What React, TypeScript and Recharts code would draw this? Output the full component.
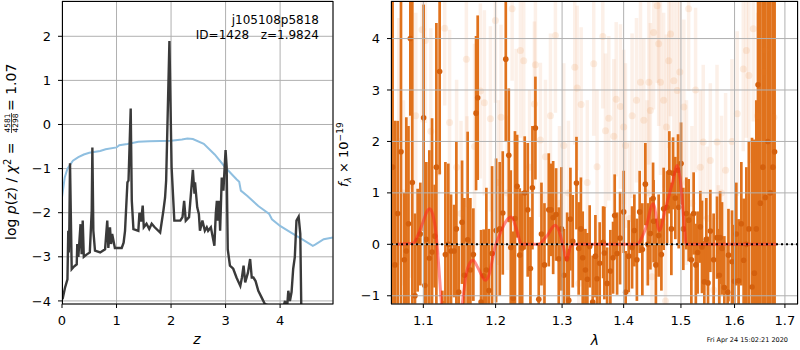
import React from 'react';
import {
  ComposedChart,
  Line,
  Scatter,
  ErrorBar,
  XAxis,
  YAxis,
  CartesianGrid,
} from 'recharts';

const FONT = '"DejaVu Sans", sans-serif';

// left panel: log p(z) (dark) and chi2 curve (blue)
const pzZ = [
  0.01, 0.055, 0.1, 0.115, 0.125, 0.135, 0.147, 0.16, 0.178, 0.22, 0.27, 0.28, 0.3, 0.34, 0.36, 0.38,
  0.4, 0.45, 0.51, 0.545, 0.557, 0.575, 0.605, 0.7, 0.79, 0.83, 0.85, 0.88, 0.9, 0.92, 0.97, 1.095,
  1.13, 1.156, 1.2, 1.22, 1.26, 1.28, 1.31, 1.4, 1.42, 1.45, 1.48, 1.5, 1.55, 1.6, 1.645, 1.7, 1.8,
  1.86, 1.89, 1.91, 1.97, 2.01, 2.06, 2.17, 2.21, 2.24, 2.27, 2.33, 2.4, 2.43, 2.44, 2.48, 2.51, 2.53,
  2.575, 2.62, 2.655, 2.68, 2.73, 2.795, 2.82, 2.84, 2.85, 2.88, 2.9, 2.93, 2.96, 3.0, 3.02, 3.04,
  3.08, 3.14, 3.2, 3.27, 3.3, 3.33, 3.36, 3.41, 3.45, 3.48, 3.51, 3.55, 3.6, 3.66, 3.72, 3.78, 3.9,
  3.95, 4.05, 4.09, 4.12, 4.15, 4.18, 4.21, 4.24, 4.27, 4.3, 4.34, 4.37, 4.39, 4.45, 4.97,
];
const pzLog = [
  -3.96, -3.7, -3.51, -2.41, -2.9, -2.3, -0.88, -1.9, -3.28, -3.22, -3.17, -2.71, -3.0, -2.26, -2.94, -2.18,
  -3.0, -2.95, -2.9, -1.95, -0.52, -2.41, -2.86, -2.9, -2.83, -2.18, -2.8, -2.33, -2.71, -2.48, -2.8, -2.8,
  -2.68, -2.41, -1.31, -1.27, 0.36, -1.73, -2.37, -2.41, -2.0, -2.2, -1.84, -2.33, -2.25, -2.37, -2.25, -2.33, -2.45,
  -1.95, -1.66, -1.27, 1.89, -0.97, -2.18, -2.18, -2.1, -1.73, -2.18, -2.1, -1.03, -1.57, -1.31, -1.88, -2.03, -2.41,
  -2.18, -2.41, -2.33, -2.41, -2.33, -2.75, -2.03, -1.73, -2.18, -1.73, -2.41, -1.2, -1.5, -0.58, -0.97, -2.83,
  -3.2, -3.27, -3.47, -3.66, -3.47, -3.2, -3.58, -3.36, -3.05, -3.47, -3.47, -3.55, -3.77, -3.92, -4.07, -4.1, -4.1,
  -4.4, -4.2, -4.0, -4.3, -3.77, -4.0, -3.8, -3.27, -3.0, -2.18, -2.09, -2.48, -4.3, -6, -6,
];
const chiZ = [
  0, 0.05, 0.1, 0.2, 0.3, 0.4, 0.5, 0.7, 0.8, 1.0, 1.05, 1.2, 1.4, 1.6, 2.0, 2.2, 2.3, 2.4, 2.6, 2.8,
  3.0, 3.2, 3.25, 3.28, 3.4, 3.6, 3.8, 3.85, 4.0, 4.2, 4.4, 4.6, 4.65, 4.8, 4.97,
];
const chiLog = [
  -1.65, -1.2, -1.0, -0.82, -0.74, -0.68, -0.64, -0.6, -0.56, -0.52, -0.47, -0.44, -0.39, -0.38, -0.37,
  -0.34, -0.32, -0.33, -0.44, -0.68, -0.98, -1.24, -1.3, -1.5, -1.62, -1.85, -2.03, -2.15, -2.3, -2.45,
  -2.6, -2.75, -2.72, -2.6, -2.56,
];
const zTicks = [0, 1, 2, 3, 4];
const logTicks = [-4, -3, -2, -1, 0, 1, 2];

// right panel: [lambda, flux, err] for the main spectrum
const specDark: [number, number, number][] = [
  [1.06, 1.5, 4.0], [1.063, -0.4, 2.8], [1.0665, 0.6, 1.8], [1.0708, 1.8, 3.2], [1.0751, -0.3, 1.3],
  [1.0777, -0.13, 2.6], [1.0805, 0.4, 1.9], [1.0829, 4.0, 1.5], [1.0855, 1.2, 3.6], [1.089, -1.0, 1.6],
  [1.0925, 0.08, 1.0], [1.096, 0.2, 1.0], [1.1004, 2.46, 2.2], [1.102, -0.8, 1.8], [1.104, 0.1, 1.5],
  [1.108, -0.27, 2.1], [1.1116, -0.15, 2.6], [1.1151, 0.16, 1.0], [1.1174, 1.5, 2.8], [1.1218, 3.36, 2.0],
  [1.1255, -1.5, 0.6], [1.128, -1.6, 0.5], [1.1296, -0.2, 1.8], [1.1336, 0.0, 1.57], [1.1373, -0.13, 1.1],
  [1.1415, -0.13, 0.9], [1.1446, 0.3, 1.7], [1.1478, -0.93, 0.9], [1.1525, 0.43, 1.2], [1.1557, -0.6, 1.5],
  [1.1603, 0.09, 2.1], [1.1641, -0.5, 1.4], [1.1683, -0.2, 0.9], [1.1721, 2.55, 1.5], [1.1744, 2.85, 1.6],
  [1.1792, -1.12, 1.4], [1.1829, -0.61, 0.9], [1.1867, -0.5, 1.6], [1.1903, -0.9, 1.2], [1.1949, -0.18, 1.7],
  [1.2007, 0.27, 1.4], [1.206, 0.3, 1.3], [1.2104, 0.61, 1.2], [1.2148, 3.6, 1.6], [1.2192, 1.73, 1.3],
  [1.2221, -0.06, 1.5], [1.2256, -1.05, 1.3], [1.2283, 0.5, 1.7], [1.2315, 1.13, 1.0], [1.2354, -0.21, 1.3],
  [1.239, -0.07, 1.1], [1.2428, 1.0, 1.1], [1.2473, 0.67, 1.3], [1.2514, -0.47, 1.0], [1.2544, 1.1, 1.2],
  [1.2589, 2.26, 1.0], [1.264, -1.07, 1.1], [1.2681, 0.2, 1.0], [1.2727, -0.4, 1.2], [1.2793, 0.67, 1.1],
  [1.283, 0.67, 0.9], [1.2861, 0.52, 1.1], [1.2907, 0.58, 0.9], [1.2948, -0.28, 1.0], [1.299, 0.3, 1.2],
  [1.3029, -0.6, 0.9], [1.3079, -0.28, 0.9], [1.3105, -1.09, 1.0], [1.3131, 0.49, 1.0], [1.3168, 0.06, 0.9],
  [1.3227, 1.19, 0.9], [1.3263, -0.08, 0.9], [1.3298, 0.3, 1.0], [1.3327, -0.26, 0.9], [1.337, -0.5, 0.8],
  [1.3402, -0.68, 0.9], [1.3439, -0.04, 0.8], [1.3488, -1.12, 0.9], [1.3532, -0.23, 0.8], [1.3559, -0.67, 0.7],
  [1.3602, -0.37, 0.8], [1.3658, 0.04, 0.7], [1.3679, -0.17, 0.9], [1.3724, -0.76, 0.7], [1.3778, -0.52, 0.8],
  [1.3823, -0.26, 0.7], [1.385, 0.56, 0.8], [1.389, -0.18, 0.8], [1.394, 0.12, 0.9], [1.4001, 0.63, 0.8],
  [1.4034, -0.93, 0.8], [1.4085, -0.23, 0.7], [1.4143, -0.06, 0.8], [1.4182, 0.27, 0.7], [1.4225, -0.3, 0.8],
  [1.4273, 0.63, 0.8], [1.4319, -0.1, 0.9], [1.4371, 1.17, 0.8], [1.4414, 0.0, 0.8], [1.4458, 0.21, 0.7],
  [1.4505, 0.89, 0.7], [1.4514, 0.45, 0.8], [1.4554, -0.4, 0.9], [1.4603, 0.17, 0.8], [1.4651, -0.2, 0.7],
  [1.4691, 0.69, 0.8], [1.4751, 0.72, 0.7], [1.4792, 1.4, 0.8], [1.4828, 0.3, 0.9], [1.4858, 1.38, 0.7],
  [1.4899, 0.9, 0.8], [1.4948, 1.44, 0.7], [1.496, 0.72, 0.8], [1.5002, 1.57, 0.8], [1.5043, 0.3, 0.8],
  [1.5098, 0.6, 0.7], [1.514, 0.47, 0.8], [1.5189, -0.3, 0.9], [1.5231, 0.6, 0.8], [1.5271, -0.4, 0.8],
  [1.5304, -0.16, 0.8], [1.5354, 0.34, 0.7], [1.5385, -0.05, 0.9], [1.5428, -0.73, 0.8], [1.5465, 0.1, 0.8],
  [1.5497, -0.75, 0.9], [1.554, 0.26, 0.8], [1.5602, -0.3, 0.9], [1.5666, 0.13, 0.8], [1.5709, -0.6, 0.9],
  [1.5725, 0.13, 0.9], [1.576, -0.08, 0.9], [1.5804, -0.84, 1.0], [1.5867, -0.93, 0.9], [1.5883, -0.21, 0.9],
  [1.5951, -0.34, 1.0], [1.5995, -0.72, 1.1], [1.6034, 0.2, 1.0], [1.6078, -0.71, 1.2], [1.6131, 0.4, 1.2],
  [1.6176, -0.31, 1.2], [1.6229, 0.0, 1.5], [1.6278, 0.3, 1.7], [1.634, -0.83, 2.9], [1.6386, -0.56, 2.6],
  [1.6425, 0.3, 2.5], [1.6459, 3.1, 4.5], [1.6504, 0.8, 4.5], [1.6554, 1.5, 4.5], [1.6604, 0.91, 4.5],
  [1.6654, 2.0, 4.5], [1.6704, 1.0, 4.5], [1.6755, 1.5, 4.5], [1.679, 1.8, 4.5],
];

// faint spectra drawn behind
const specFaint: [number, number, number][] = [
  [1.068, 2.0, 2.4], [1.074, 1.0, 1.8], [1.0829, 1.15, 1.8], [1.09, 2.5, 2.0], [1.0983, 4.17, 1.8],
  [1.1027, 3.96, 1.6], [1.11, 2.2, 2.0], [1.12, 1.4, 1.6], [1.1287, 4.2, 1.5], [1.1353, 2.37, 1.8],
  [1.145, 1.5, 1.7], [1.151, 0.6, 1.8], [1.1585, 3.6, 1.6], [1.1594, 0.79, 1.7], [1.17, 1.9, 2.0],
  [1.1782, 2.98, 1.7], [1.1839, 2.75, 1.8], [1.1925, 2.44, 1.8], [1.1997, 4.35, 1.6], [1.204, 1.2, 1.6],
  [1.2079, 2.47, 1.8], [1.217, 1.0, 1.5], [1.2241, 4.58, 1.4], [1.23, 2.0, 1.8], [1.2364, 3.77, 1.7],
  [1.2413, 3.57, 1.6], [1.25, 1.5, 1.5], [1.2574, 2.73, 1.6], [1.2589, 3.49, 1.5], [1.2665, 2.03, 1.5],
  [1.27, -0.37, 1.4], [1.2742, 1.7, 1.5], [1.2819, 2.5, 1.6], [1.2896, 4.06, 1.5], [1.296, 0.8, 1.5],
  [1.3026, 1.92, 1.6], [1.31, 1.0, 1.4], [1.32, 3.44, 1.5], [1.3238, 3.04, 1.6], [1.3263, -0.76, 1.4],
  [1.3302, 2.72, 1.5], [1.34, 1.2, 1.6], [1.3505, 3.51, 1.4], [1.3559, 1.51, 1.5], [1.3653, 4.04, 1.4],
  [1.3697, 2.21, 1.5], [1.3752, 2.45, 1.6], [1.3835, 2.1, 1.5], [1.3875, 2.82, 1.5], [1.3947, 2.68, 1.6],
  [1.4001, 2.28, 1.5], [1.4031, 1.92, 1.6], [1.41, 0.5, 1.5], [1.4143, 2.5, 1.6], [1.4218, 2.8, 1.6],
  [1.4287, 3.15, 1.7], [1.4344, 2.41, 1.6], [1.44, 1.0, 1.8], [1.4431, 3.15, 1.6], [1.4458, 2.6, 1.7],
  [1.4486, -0.63, 1.5], [1.4514, 4.12, 1.5], [1.4577, 4.64, 1.5], [1.4603, 3.9, 1.6], [1.4635, 3.15, 1.8],
  [1.4691, 2.8, 1.7], [1.4724, -1.1, 1.5], [1.474, 2.28, 1.8], [1.4782, 3.57, 1.7], [1.4813, 4.09, 1.6],
  [1.4872, 3.18, 1.8], [1.4933, 2.99, 1.8], [1.498, 3.35, 1.7], [1.5052, 2.67, 1.7], [1.51, 1.2, 1.6],
  [1.514, 4.58, 1.6], [1.52, 0.8, 1.5], [1.5266, 3.0, 1.6], [1.5354, 1.5, 1.5], [1.5408, 1.99, 1.5],
  [1.548, 0.5, 1.4], [1.554, 1.63, 1.5], [1.5602, -0.89, 1.4], [1.5666, 1.99, 1.5], [1.569, -0.25, 1.4],
  [1.575, 1.0, 1.5], [1.5828, 1.44, 1.5], [1.595, 2.0, 1.6], [1.6052, 2.54, 1.6], [1.6169, 3.41, 1.6],
  [1.6229, 3.77, 1.7], [1.6278, 3.28, 1.7], [1.6365, 4.19, 1.8], [1.645, 2.5, 2.0], [1.6575, 3.35, 2.0],
  [1.6604, 3.77, 2.0], [1.67, 2.0, 2.2], [1.6776, 2.47, 2.2],
];

// model line
const modelLam = [
  1.066, 1.0867, 1.092, 1.1, 1.105, 1.1084, 1.1125, 1.117, 1.121, 1.125, 1.135, 1.145, 1.1525, 1.158,
  1.1635, 1.1679, 1.1745, 1.1853, 1.1896, 1.1993, 1.2084, 1.218, 1.223, 1.2304, 1.2379, 1.2635, 1.2757,
  1.2892, 1.2955, 1.3021, 1.3073, 1.3127, 1.3175, 1.4218, 1.4373, 1.4507, 1.4613, 1.4724, 1.4848, 1.4933,
  1.4983, 1.5065, 1.5095, 1.683,
];
const modelFlux = [
  0, 0.02, 0.15, 0.45, 0.64, 0.69, 0.58, 0.2, -0.5, -1.3, -2.2, -2.2, -1.2, -0.6, -0.36, -0.31, -0.45,
  -0.7, -0.63, -0.05, 0.27, 0.5, 0.53, 0.3, 0.0, 0.0, 0.15, 0.37, 0.25, -0.05, -0.31, -0.05, 0, 0, 0.3,
  0.79, 0.27, 0.7, 1.2, 1.53, 1.3, 0.3, 0, 0,
];
const lamRange = [1.058, 1.727];
const fluxRange = [-1.16, 4.73];
const lamTicks = [1.1, 1.2, 1.3, 1.4, 1.5, 1.6, 1.7];
const fluxTicks = [-1, 0, 1, 2, 3, 4];

const pzData = pzZ.map((x, i) => ({ x, y: pzLog[i] }));
const chiData = chiZ.map((x, i) => ({ x, y: chiLog[i] }));
const darkData = specDark.map(([x, y, e]) => ({ x, y, e }));
const faintData = specFaint.map(([x, y, e]) => ({ x, y, e }));
const modelData = modelLam.map((x, i) => ({ x, y: modelFlux[i] }));
const zeroData = lamRange.map(x => ({ x, y: 0 }));

const minus = (v: number) => (v < 0 ? '\u2212' + Math.abs(v) : String(v));
const tickStyle = { fill: '#000', fontSize: 13 };

// plot box of the spectrum panel (page pixels)
const SPEC = { left: 391, top: 1, width: 407, height: 303 };

export default function App() {
  return (
    <div
      style={{
        position: 'absolute',
        left: 0,
        top: 0,
        width: 800,
        height: 350,
        background: '#fff',
        fontFamily: FONT,
        overflow: 'hidden',
      }}
    >
      <div style={{ position: 'absolute', left: 0, top: 0 }}>
        <ComposedChart width={340} height={350} margin={{ top: 1, right: 7, bottom: 0, left: 0 }}>
          <XAxis
            dataKey='x'
            type='number'
            domain={[0, 4.97]}
            ticks={zTicks}
            interval={0}
            allowDataOverflow
            axisLine={false}
            stroke='#000'
            tickSize={4}
            tickMargin={8}
            tick={tickStyle}
            height={46}
          />
          <YAxis
            dataKey='y'
            type='number'
            domain={[-4.07, 2.8]}
            ticks={logTicks}
            interval={0}
            allowDataOverflow
            axisLine={false}
            stroke='#000'
            tickSize={4}
            tickMargin={7}
            tick={tickStyle}
            tickFormatter={minus}
            width={62}
          />
          <CartesianGrid stroke='#b0b0b0' strokeWidth={1} />
          <Line data={chiData} dataKey='y' stroke='#8fbfe0' strokeWidth={2} dot={false} isAnimationActive={false} />
          <Line data={pzData} dataKey='y' stroke='#3a3a3a' strokeWidth={2.4} dot={false} isAnimationActive={false} />
        </ComposedChart>
      </div>

      {/* spectrum error bars, clipped to the plot box */}
      <div
        style={{
          position: 'absolute',
          left: SPEC.left,
          top: SPEC.top,
          width: SPEC.width,
          height: SPEC.height,
          overflow: 'hidden',
        }}
      >
        <ComposedChart width={SPEC.width} height={SPEC.height} margin={{ top: 0, right: 0, bottom: 0, left: 0 }}>
          <XAxis dataKey='x' type='number' scale='log' domain={lamRange} allowDataOverflow hide />
          <YAxis dataKey='y' type='number' domain={fluxRange} allowDataOverflow hide />
          <Scatter
            data={faintData}
            isAnimationActive={false}
            shape={(p: any) => <circle cx={p.cx} cy={p.cy} r={3.5} fill='#e8782a' fillOpacity={0.13} />}
          >
            <ErrorBar dataKey='e' direction='y' width={0} stroke='#e8782a' strokeOpacity={0.11} strokeWidth={3.5} />
          </Scatter>
          <Scatter
            data={darkData}
            isAnimationActive={false}
            shape={(p: any) => <circle cx={p.cx} cy={p.cy} r={2.8} fill='#d4600d' />}
          >
            <ErrorBar dataKey='e' direction='y' width={0} stroke='#e0721c' strokeWidth={2.7} />
          </Scatter>
        </ComposedChart>
      </div>

      {/* spectrum axes, grid, model and zero line, drawn over the error bars */}
      <div style={{ position: 'absolute', left: 340, top: 0 }}>
        <ComposedChart width={460} height={350} margin={{ top: 1, right: 2, bottom: 0, left: 0 }}>
          <XAxis
            dataKey='x'
            type='number'
            scale='log'
            domain={lamRange}
            ticks={lamTicks}
            interval={0}
            allowDataOverflow
            axisLine={false}
            stroke='#000'
            tickSize={4}
            tickMargin={8}
            tick={tickStyle}
            tickFormatter={(v: number) => v.toFixed(1)}
            height={46}
          />
          <YAxis
            dataKey='y'
            type='number'
            domain={fluxRange}
            ticks={fluxTicks}
            interval={0}
            allowDataOverflow
            axisLine={false}
            stroke='#000'
            tickSize={4}
            tickMargin={7}
            tick={tickStyle}
            tickFormatter={minus}
            width={51}
          />
          <CartesianGrid stroke='#b0b0b0' strokeWidth={1} fill='none' />
          <Line
            data={modelData}
            dataKey='y'
            type='monotone'
            stroke='#ff2020'
            strokeOpacity={0.5}
            strokeWidth={3}
            dot={false}
            isAnimationActive={false}
          />
          <Line
            data={zeroData}
            dataKey='y'
            stroke='#000'
            strokeWidth={2}
            strokeDasharray='2 3'
            dot={false}
            isAnimationActive={false}
          />
        </ComposedChart>
      </div>

      <svg
        width={800}
        height={350}
        style={{ position: 'absolute', left: 0, top: 0, pointerEvents: 'none' }}
        fontFamily={FONT}
      >
        <rect x={62.5} y={1.5} width={270.5} height={302.5} fill='none' stroke='#000' />
        <rect x={391.5} y={1.5} width={406} height={302.5} fill='none' stroke='#000' />

        <text x={319} y={24} fontSize={12} textAnchor='end'>j105108p5818</text>
        <text x={319} y={39} fontSize={12} textAnchor='end' xmlSpace='preserve'>ID=1428   z=1.9824</text>

        <text x={197} y={344} fontSize={14} fontStyle='italic' textAnchor='middle'>z</text>
        <text x={595} y={345} fontSize={14} fontStyle='italic' textAnchor='middle'>λ</text>
        <text x={788} y={342} fontSize={6.5} textAnchor='end'>Fri Apr 24 15:02:21 2020</text>

        <g transform='translate(16,240) rotate(-90)'>
          <text x={0} y={0} fontSize={14}>
            log <tspan fontStyle='italic'>p</tspan>(<tspan fontStyle='italic'>z</tspan>) / <tspan fontStyle='italic'>χ</tspan>
            <tspan dy={-5} fontSize={10}>2</tspan>
            <tspan dy={5}> =</tspan>
          </text>
          <text x={117} y={-6} fontSize={7.5} textAnchor='middle'>4581</text>
          <line x1={107} x2={127} y1={-4.5} y2={-4.5} stroke='#000' strokeWidth={0.7} />
          <text x={117} y={1.5} fontSize={7.5} textAnchor='middle'>4298</text>
          <text x={129} y={0} fontSize={14}>= 1.07</text>
        </g>

        <g transform='translate(348,187) rotate(-90)'>
          <text x={0} y={0} fontSize={13}>
            <tspan fontStyle='italic'>f</tspan>
            <tspan dy={3} fontSize={9} fontStyle='italic'>λ</tspan>
            <tspan dy={-3}> × 10</tspan>
            <tspan dy={-5} fontSize={9}>−19</tspan>
          </text>
        </g>
      </svg>
    </div>
  );
}
